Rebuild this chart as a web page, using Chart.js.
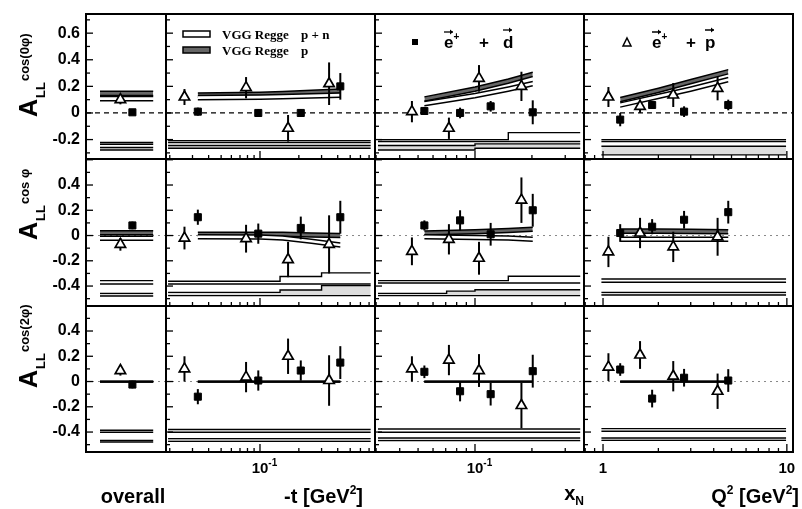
<!DOCTYPE html>
<html>
<head>
<meta charset="utf-8">
<script src="https://cdn.jsdelivr.net/npm/chart.js@4.4.0/dist/chart.umd.min.js"></script>
<style>
  html, body { margin: 0; padding: 0; background: #fff; }
  body { width: 802px; height: 509px; position: relative; overflow: hidden; }
  canvas { position: absolute; }
</style>
</head>
<body>
<script>
// ---- bins (x position of each point) ----
const OVR_P = [0.43], OVR_D = [0.58];            // "overall" column, arbitrary position
const T_P = [0.026, 0.078, 0.165, 0.343];         // -t [GeV^2], e+p (triangles)
const T_D = [0.033, 0.097, 0.207, 0.419];         // -t [GeV^2], e+d (squares)
const XN_P = [0.0464, 0.0728, 0.105, 0.176];
const XN_D = [0.054, 0.0834, 0.121, 0.202];
const Q2_P = [1.07, 1.59, 2.41, 4.2];
const Q2_D = [1.24, 1.85, 2.76, 4.8];
const BIN_P = [OVR_P, T_P, XN_P, Q2_P];
const BIN_D = [OVR_D, T_D, XN_D, Q2_D];

// ---- asymmetries [row][col][bin]; rows: cos(0phi), cos phi, cos(2phi) ----
const ALL_P = [
  [[0.10], [0.12, 0.19, -0.115, 0.22], [0.01, -0.115, 0.26, 0.20], [0.12, 0.05, 0.135, 0.185]],
  [[-0.07], [-0.02, -0.025, -0.19, -0.07], [-0.125, -0.03, -0.18, 0.28], [-0.13, 0.02, -0.09, -0.01]],
  [[0.087], [0.10, 0.035, 0.20, 0.008], [0.10, 0.17, 0.087, -0.19], [0.114, 0.21, 0.042, -0.077]]
];
const ERR_P = [
  [[0.035], [0.06, 0.08, 0.10, 0.16], [0.08, 0.08, 0.10, 0.11], [0.075, 0.05, 0.09, 0.09]],
  [[0.05], [0.09, 0.11, 0.14, 0.23], [0.11, 0.12, 0.13, 0.18], [0.12, 0.12, 0.12, 0.15]],
  [[0.04], [0.10, 0.12, 0.14, 0.20], [0.10, 0.12, 0.13, 0.18], [0.11, 0.11, 0.12, 0.14]]
];
const ALL_D = [
  [[0.005], [0.01, 0.0, 0.0, 0.20], [0.015, 0.0, 0.05, 0.005], [-0.05, 0.06, 0.01, 0.06]],
  [[0.08], [0.145, 0.015, 0.06, 0.145], [0.08, 0.12, 0.01, 0.20], [0.02, 0.07, 0.125, 0.185]],
  [[-0.024], [-0.12, 0.008, 0.087, 0.15], [0.077, -0.077, -0.10, 0.082], [0.095, -0.135, 0.03, 0.008]]
];
const ERR_D = [
  [[0.02], [0.03, 0.03, 0.03, 0.10], [0.03, 0.04, 0.04, 0.09], [0.05, 0.03, 0.04, 0.04]],
  [[0.03], [0.06, 0.08, 0.09, 0.13], [0.04, 0.08, 0.09, 0.13], [0.07, 0.06, 0.07, 0.09]],
  [[0.03], [0.06, 0.08, 0.08, 0.13], [0.05, 0.08, 0.09, 0.13], [0.05, 0.07, 0.07, 0.09]]
];

// ---- VGG Regge model bands (centre lines) ----
const VGG_X = [[0.175, 0.84], [0.033, 0.1, 0.15, 0.25, 0.419], [0.054, 0.1, 0.15, 0.202], [1.24, 2, 3, 4.8]];
const VGG_P = [
  [[0.147, 0.147], [0.135, 0.14, 0.145, 0.155, 0.165], [0.105, 0.18, 0.24, 0.29], [0.10, 0.17, 0.235, 0.31]],
  [[0.022, 0.022], [0.01, 0.01, 0.01, 0.005, 0.0], [0.02, 0.03, 0.04, 0.05], [0.035, 0.035, 0.033, 0.03]],
  [[0, 0], [0, 0, 0, 0, 0], [0, 0, 0, 0], [0, 0, 0, 0]]
];
const VGG_PN = [
  [[0.107, 0.107], [0.115, 0.12, 0.122, 0.128, 0.135], [0.07, 0.13, 0.18, 0.22], [0.06, 0.125, 0.18, 0.25]],
  [[-0.022, -0.022], [-0.01, -0.012, -0.02, -0.045, -0.075], [-0.01, -0.015, -0.02, -0.03], [-0.03, -0.03, -0.03, -0.03]],
  [[0, 0], [0, 0, 0, 0, 0], [0, 0, 0, 0], [0, 0, 0, 0]]
];
const VGG_HW = [0.016, 0.016, 0];   // half width of the model band per row

// ---- systematic error bands: bin edges per column, [row][col][bin] values ----
const SYS_X = [[0.175, 0.84], [0.0194, 0.143, 0.3, 0.72], [0.0307, 0.0708, 0.1, 0.15, 0.36], [0.98, 9.9]];
const SYSA_LO = [
  [[-0.235], [-0.222, -0.222, -0.222], [-0.215, -0.215, -0.215, -0.215], [-0.215]],
  [[-0.384], [-0.384, -0.384, -0.384], [-0.376, -0.376, -0.376, -0.376], [-0.37]],
  [[-0.402], [-0.402, -0.402, -0.402], [-0.402, -0.402, -0.402, -0.402], [-0.394]]
];
const SYSA_HI = [
  [[-0.222], [-0.208, -0.208, -0.208], [-0.2, -0.2, -0.2, -0.148], [-0.2]],
  [[-0.357], [-0.362, -0.325, -0.296], [-0.357, -0.357, -0.357, -0.323], [-0.344]],
  [[-0.386], [-0.38, -0.38, -0.38], [-0.376, -0.376, -0.376, -0.376], [-0.373]]
];
const SYSB_LO = [
  [[-0.278], [-0.265, -0.265, -0.265], [-0.278, -0.278, -0.265, -0.265], [-0.315]],
  [[-0.479], [-0.476, -0.476, -0.476], [-0.476, -0.476, -0.476, -0.476], [-0.471]],
  [[-0.479], [-0.474, -0.474, -0.474], [-0.468, -0.468, -0.468, -0.468], [-0.466]]
];
const SYSB_HI = [
  [[-0.26], [-0.245, -0.245, -0.245], [-0.245, -0.245, -0.232, -0.232], [-0.25]],
  [[-0.458], [-0.45, -0.431, -0.397], [-0.458, -0.44, -0.429, -0.429], [-0.45]],
  [[-0.466], [-0.452, -0.452, -0.452], [-0.447, -0.447, -0.447, -0.447], [-0.447]]
];

// ---- axes ----
const X_MIN = [0, 0.0187, 0.0296, 0.788];
const X_MAX = [1, 0.778, 0.377, 10.8];
const Y_MIN = [-0.346, -0.558, -0.558];
const Y_MAX = [0.744, 0.606, 0.598];
const Y_LABELS = [[-0.2, 0, 0.2, 0.4, 0.6], [-0.4, -0.2, 0, 0.2, 0.4], [-0.4, -0.2, 0, 0.2, 0.4]];
const YT_SUP = ['cos(0\u03c6)', 'cos \u03c6', 'cos(2\u03c6)'];

// ---- layout (pixels) ----
const AREA_L = [86, 166, 375, 584], AREA_R = [166, 375, 584, 793];
const AREA_T = [14, 159, 306], AREA_B = [159, 306, 452];
const CV_L = [0, 164, 373, 582], CV_R = [168, 377, 586, 802];
const CV_T = [0, 150, 296], CV_B = [166, 313, 509];
const YT_START = [117, 240, 388];

const SANS = '"Liberation Sans", Arial, sans-serif';
const SERIF = '"Liberation Serif", "Times New Roman", serif';

function logTicks(min, max) {
  const out = [];
  for (let e = Math.floor(Math.log10(min)); e <= Math.ceil(Math.log10(max)); e++) {
    for (let m = 1; m <= 9; m++) {
      const v = m * Math.pow(10, e);
      if (v >= min && v <= max) out.push({ v, major: m === 1 });
    }
  }
  return out;
}

function runs(ctx, x, y, parts, align) {
  let total = 0;
  parts.forEach(p => { ctx.font = p[3] || ('bold ' + p[1] + 'px ' + SANS); total += ctx.measureText(p[0]).width; });
  let cx = align === 'right' ? x - total : align === 'center' ? x - total / 2 : x;
  parts.forEach(p => {
    ctx.font = p[3] || ('bold ' + p[1] + 'px ' + SANS);
    ctx.fillText(p[0], cx, y + (p[2] || 0));
    cx += ctx.measureText(p[0]).width;
  });
}

function vecArrow(ctx, x, y, w) {
  ctx.beginPath(); ctx.moveTo(x, y); ctx.lineTo(x + w, y); ctx.stroke();
  ctx.beginPath(); ctx.moveTo(x + w, y); ctx.lineTo(x + w - 3, y - 2.5); ctx.lineTo(x + w - 3, y + 2.5); ctx.closePath(); ctx.fill();
}

const deco = {
  id: 'deco',
  beforeDatasetsDraw(chart) {
    const { ctx, chartArea: a, scales: { y } } = chart;
    const row = chart.options.plugins.deco.row;
    const py = y.getPixelForValue(0);
    ctx.save();
    ctx.setLineDash(row === 0 ? [5, 4] : [2, 4]);
    ctx.strokeStyle = row === 0 ? '#000' : '#888';
    ctx.lineWidth = row === 0 ? 1.3 : 1;
    ctx.beginPath(); ctx.moveTo(a.left, py); ctx.lineTo(a.right, py); ctx.stroke();
    ctx.restore();
  },
  beforeDatasetDraw(chart, args) {
    const ds = chart.data.datasets[args.index];
    if (!ds.errs) return;
    const { ctx, scales: { y } } = chart;
    ctx.save();
    ctx.strokeStyle = '#000'; ctx.lineWidth = 2;
    args.meta.data.forEach((pt, i) => {
      const v = ds.data[i].y, e = ds.errs[i];
      ctx.beginPath();
      ctx.moveTo(pt.x, y.getPixelForValue(v - e));
      ctx.lineTo(pt.x, y.getPixelForValue(v + e));
      ctx.stroke();
    });
    ctx.restore();
  },
  afterDraw(chart) {
    const { ctx, chartArea: a, scales: { x, y } } = chart;
    const { row, col } = chart.options.plugins.deco;
    const ox = CV_L[col], oy = CV_T[row];
    ctx.save();
    ctx.strokeStyle = '#000'; ctx.fillStyle = '#000';
    ctx.lineWidth = 2;
    ctx.strokeRect(a.left, a.top, a.right - a.left, a.bottom - a.top);

    // inward ticks
    ctx.lineWidth = 1.3;
    for (let k = Math.ceil(Y_MIN[row] * 10); k <= Math.floor(Y_MAX[row] * 10); k++) {
      const py = y.getPixelForValue(k / 10);
      const len = k % 2 === 0 ? 7 : 4;
      ctx.beginPath(); ctx.moveTo(a.left, py); ctx.lineTo(a.left + len, py); ctx.stroke();
    }
    if (col > 0) {
      logTicks(X_MIN[col], X_MAX[col]).forEach(t => {
        const px = x.getPixelForValue(t.v);
        const len = t.major ? 8 : 4;
        ctx.beginPath(); ctx.moveTo(px, a.bottom); ctx.lineTo(px, a.bottom - len); ctx.stroke();
      });
    }

    ctx.textBaseline = 'alphabetic'; ctx.textAlign = 'left';

    // y axis title
    if (col === 0) {
      ctx.save();
      ctx.translate(37, YT_START[row] - oy);
      ctx.rotate(-Math.PI / 2);
      ctx.font = 'bold 25px ' + SANS; ctx.fillText('A', 0, 0);
      let w = ctx.measureText('A').width;
      ctx.font = 'bold 13px ' + SANS; ctx.fillText('LL', w + 1, 8);
      w += ctx.measureText('LL').width + 2;
      ctx.font = 'bold 13px ' + SANS; ctx.fillText(YT_SUP[row], w, -8);
      ctx.restore();
    }

    // legends in the top row
    if (row === 0 && col === 1) {
      ctx.lineWidth = 1.5;
      ctx.fillStyle = '#fff'; ctx.fillRect(183 - ox, 31, 27, 6); ctx.strokeRect(183 - ox, 31, 27, 6);
      ctx.fillStyle = '#666'; ctx.fillRect(183 - ox, 47, 27, 6); ctx.strokeRect(183 - ox, 47, 27, 6);
      ctx.fillStyle = '#000';
      ctx.font = 'bold 13px ' + SERIF;
      ctx.fillText('VGG Regge', 222 - ox, 39); ctx.fillText('p + n', 301 - ox, 39);
      ctx.fillText('VGG Regge', 222 - ox, 55); ctx.fillText('p', 301 - ox, 55);
    }
    if (row === 0 && col === 2) {
      ctx.fillRect(412 - ox, 39, 6, 6);
      runs(ctx, 444 - ox, 48, [['e', 17], ['+', 10, -8]], 'left');
      runs(ctx, 479 - ox, 48, [['+', 17]], 'left');
      runs(ctx, 503 - ox, 48, [['d', 17]], 'left');
      vecArrow(ctx, 444 - ox, 32, 9); vecArrow(ctx, 503 - ox, 30, 9);
    }
    if (row === 0 && col === 3) {
      ctx.lineWidth = 1.5;
      ctx.beginPath(); ctx.moveTo(627 - ox, 38); ctx.lineTo(631 - ox, 46); ctx.lineTo(623 - ox, 46); ctx.closePath(); ctx.stroke();
      runs(ctx, 652 - ox, 48, [['e', 17], ['+', 10, -8]], 'left');
      runs(ctx, 686 - ox, 48, [['+', 17]], 'left');
      runs(ctx, 705 - ox, 48, [['p', 17]], 'left');
      vecArrow(ctx, 652 - ox, 32, 9); vecArrow(ctx, 705 - ox, 30, 9);
    }

    // x axis labels in the bottom row
    if (row === 2) {
      const base = 473 - oy, tb = 503 - oy;
      const dec = px => {
        ctx.font = 'bold 15px ' + SANS;
        const w = ctx.measureText('10').width;
        runs(ctx, px - w / 2, base, [['10', 15], ['-1', 10, -7]], 'left');
      };
      if (col === 0) runs(ctx, 133 - ox, tb, [['overall', 20]], 'center');
      if (col === 1) {
        dec(x.getPixelForValue(0.1));
        runs(ctx, a.right - 12, tb, [['-t [GeV', 20], ['2', 12, -9], [']', 20]], 'right');
      }
      if (col === 2) {
        dec(x.getPixelForValue(0.1));
        runs(ctx, a.right, tb - 3, [['x', 20], ['N', 12, 5]], 'right');
      }
      if (col === 3) {
        runs(ctx, x.getPixelForValue(1), base, [['1', 15]], 'center');
        runs(ctx, x.getPixelForValue(10), base, [['10', 15]], 'center');
        runs(ctx, a.right + 6, tb, [['Q', 20], ['2', 12, -9], [' [GeV', 20], ['2', 12, -9], [']', 20]], 'right');
      }
    }
    ctx.restore();
  }
};

function bandPair(xs, lo, hi, fillColor, order, stepped, lw) {
  const pick = (arr, i) => arr[Math.min(i, arr.length - 1)];
  const common = { showLine: true, borderColor: '#000', borderWidth: lw, pointRadius: 0, stepped, order };
  return [
    Object.assign({ data: xs.map((x, i) => ({ x, y: pick(lo, i) })), fill: false }, common),
    Object.assign({ data: xs.map((x, i) => ({ x, y: pick(hi, i) })), fill: '-1', backgroundColor: fillColor }, common)
  ];
}

function makePanel(r, c) {
  const cv = document.createElement('canvas');
  const W = CV_R[c] - CV_L[c], H = CV_B[r] - CV_T[r];
  cv.width = W; cv.height = H;
  cv.style.left = CV_L[c] + 'px'; cv.style.top = CV_T[r] + 'px';
  cv.style.width = W + 'px'; cv.style.height = H + 'px';
  document.body.appendChild(cv);

  const hw = VGG_HW[r];
  const datasets = [];
  // systematic bands (value of bin i held from edge i to edge i+1)
  datasets.push(...bandPair(SYS_X[c], SYSA_LO[r][c], SYSA_HI[r][c], '#fff', 4, 'before', 1.4));
  datasets.push(...bandPair(SYS_X[c], SYSB_LO[r][c], SYSB_HI[r][c], '#ddd', 4, 'before', 1.4));
  // model bands
  const pLo = VGG_P[r][c].map(v => v - hw), pHi = VGG_P[r][c].map(v => v + hw);
  const nLo = VGG_PN[r][c].map(v => v - hw), nHi = VGG_PN[r][c].map(v => v + hw);
  datasets.push(...bandPair(VGG_X[c], pLo, pHi, '#666', 3, false, hw ? 1.5 : 1.8));
  datasets.push(...bandPair(VGG_X[c], nLo, nHi, '#fff', 2, false, hw ? 1.5 : 1.8));
  // measured points
  datasets.push({
    data: BIN_D[c].map((x, i) => ({ x, y: ALL_D[r][c][i] })), errs: ERR_D[r][c],
    pointStyle: 'rect', pointRadius: 5, backgroundColor: '#000', borderColor: '#000',
    pointBorderWidth: 1, showLine: false, order: 1
  });
  datasets.push({
    data: BIN_P[c].map((x, i) => ({ x, y: ALL_P[r][c][i] })), errs: ERR_P[r][c],
    pointStyle: 'triangle', pointRadius: 6, backgroundColor: '#fff', borderColor: '#000',
    pointBorderWidth: 1.7, showLine: false, order: 0
  });

  const yScale = {
    type: 'linear', min: Y_MIN[r], max: Y_MAX[r], display: c === 0,
    grid: { display: false, drawTicks: false }, border: { display: false },
    ticks: {
      padding: 6, color: '#000', autoSkip: false,
      font: { family: SANS, weight: 'bold', size: 16 },
      callback: v => (Math.abs(v) < 1e-9 ? '0' : String(Math.round(v * 10) / 10))
    },
    afterBuildTicks: s => { s.ticks = Y_LABELS[r].map(v => ({ value: v })); }
  };
  if (c === 0) yScale.afterFit = s => { s.width = AREA_L[0]; s.paddingTop = 0; s.paddingBottom = 0; };

  new Chart(cv, {
    type: 'scatter',
    data: { datasets },
    options: {
      responsive: false, animation: false, devicePixelRatio: 1, events: [],
      layout: {
        autoPadding: false,
        padding: {
          left: c === 0 ? 0 : AREA_L[c] - CV_L[c],
          right: CV_R[c] - AREA_R[c],
          top: AREA_T[r] - CV_T[r],
          bottom: CV_B[r] - AREA_B[r]
        }
      },
      plugins: { legend: { display: false }, tooltip: { enabled: false }, deco: { row: r, col: c } },
      scales: {
        x: { type: c === 0 ? 'linear' : 'logarithmic', min: X_MIN[c], max: X_MAX[c], display: false },
        y: yScale
      }
    },
    plugins: [deco]
  });
}

for (let r = 0; r < 3; r++) for (let c = 0; c < 4; c++) makePanel(r, c);
</script>
</body>
</html>
